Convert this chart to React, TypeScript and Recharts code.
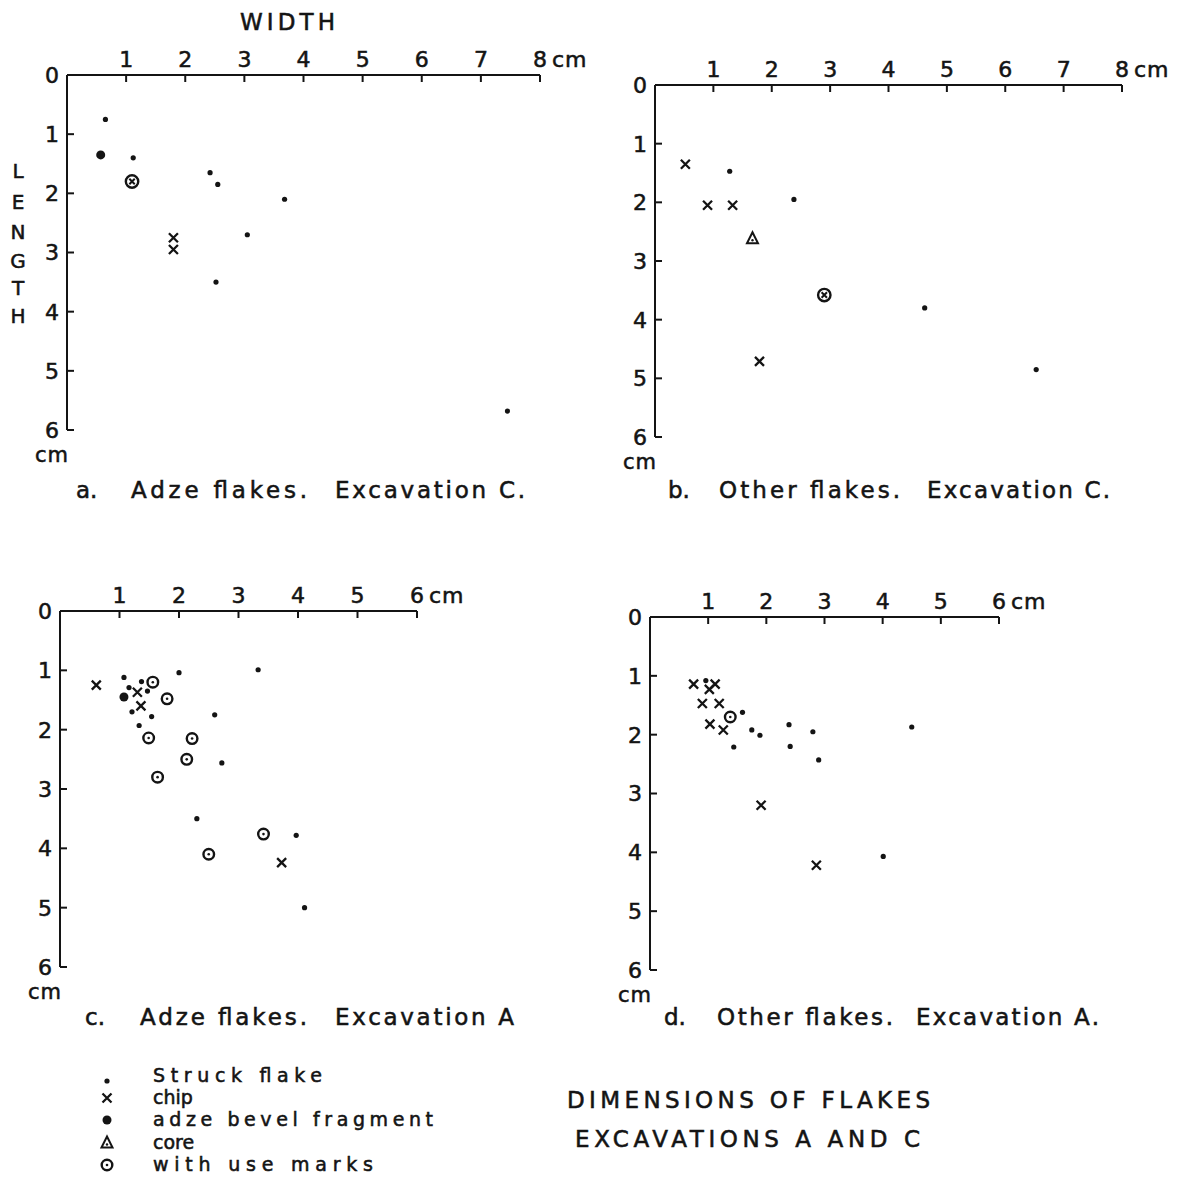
import React from 'react';
import { ScatterChart, Scatter, XAxis, YAxis } from 'recharts';

type Pt = { w: number; l: number };

// ---------- tick values ----------
const widthTicks8 = [1, 2, 3, 4, 5, 6, 7, 8];
const widthTicks6 = [1, 2, 3, 4, 5, 6];
const lengthTicks = [0, 1, 2, 3, 4, 5, 6];

// ---------- a. Adze flakes, Excavation C ----------
const aStruck: Pt[] = [
  { w: 0.65, l: 0.75 }, { w: 1.12, l: 1.4 }, { w: 2.42, l: 1.65 }, { w: 2.55, l: 1.85 },
  { w: 3.68, l: 2.1 }, { w: 3.05, l: 2.7 }, { w: 2.52, l: 3.5 }, { w: 7.45, l: 5.68 },
];
const aChip: Pt[] = [{ w: 1.8, l: 2.75 }, { w: 1.8, l: 2.95 }];
const aBevel: Pt[] = [{ w: 0.57, l: 1.35 }];
const aChipUse: Pt[] = [{ w: 1.1, l: 1.8 }];

// ---------- b. Other flakes, Excavation C ----------
const bStruck: Pt[] = [
  { w: 1.28, l: 1.47 }, { w: 2.38, l: 1.95 }, { w: 4.62, l: 3.8 }, { w: 6.53, l: 4.85 },
];
const bChip: Pt[] = [
  { w: 0.52, l: 1.35 }, { w: 0.9, l: 2.05 }, { w: 1.33, l: 2.05 }, { w: 1.79, l: 4.71 },
];
const bCore: Pt[] = [{ w: 1.67, l: 2.62 }];
const bChipUse: Pt[] = [{ w: 2.9, l: 3.58 }];

// ---------- c. Adze flakes, Excavation A ----------
const cStruck: Pt[] = [
  { w: 1.075, l: 1.12 }, { w: 1.16, l: 1.29 }, { w: 1.37, l: 1.19 }, { w: 1.47, l: 1.35 },
  { w: 1.21, l: 1.7 }, { w: 1.54, l: 1.78 }, { w: 1.33, l: 1.93 }, { w: 2.0, l: 1.04 },
  { w: 3.33, l: 0.99 }, { w: 2.6, l: 1.75 }, { w: 2.72, l: 2.56 }, { w: 2.3, l: 3.5 },
  { w: 3.97, l: 3.78 }, { w: 4.11, l: 5.0 },
];
const cChip: Pt[] = [
  { w: 0.61, l: 1.25 }, { w: 1.3, l: 1.37 }, { w: 1.36, l: 1.6 }, { w: 3.725, l: 4.24 },
];
const cBevel: Pt[] = [{ w: 1.075, l: 1.45 }];
const cUse: Pt[] = [
  { w: 1.56, l: 1.2 }, { w: 1.8, l: 1.48 }, { w: 1.49, l: 2.14 }, { w: 2.22, l: 2.15 },
  { w: 2.13, l: 2.5 }, { w: 1.64, l: 2.8 }, { w: 3.42, l: 3.76 }, { w: 2.5, l: 4.1 },
];

// ---------- d. Other flakes, Excavation A ----------
const dStruck: Pt[] = [
  { w: 0.96, l: 1.08 }, { w: 1.59, l: 1.62 }, { w: 1.75, l: 1.92 }, { w: 1.89, l: 2.01 },
  { w: 1.44, l: 2.21 }, { w: 2.39, l: 1.83 }, { w: 2.41, l: 2.2 }, { w: 2.8, l: 1.95 },
  { w: 2.9, l: 2.43 }, { w: 4.5, l: 1.87 }, { w: 4.01, l: 4.07 },
];
const dChip: Pt[] = [
  { w: 0.75, l: 1.14 }, { w: 1.12, l: 1.14 }, { w: 1.02, l: 1.23 }, { w: 0.9, l: 1.47 },
  { w: 1.19, l: 1.47 }, { w: 1.03, l: 1.82 }, { w: 1.26, l: 1.92 }, { w: 1.91, l: 3.2 },
  { w: 2.86, l: 4.22 },
];
const dUse: Pt[] = [{ w: 1.38, l: 1.7 }];

// ---------- text ----------
const legendLabels = ['Struck flake', 'chip', 'adze bevel fragment', 'core', 'with use marks'];
const titleLines = ['DIMENSIONS OF FLAKES', 'EXCAVATIONS A AND C'];

// ---------- styling ----------
const INK = '#141414';
const FONT = 'DejaVu Sans, Liberation Sans, sans-serif';
const FS = 22;
const TS = { fill: INK, stroke: INK, strokeWidth: 0.55, fontFamily: FONT };

// ---------- marker shapes ----------
const DotShape = (p: any) => <circle cx={p.cx} cy={p.cy} r={2.6} fill={INK} />;
const BevelShape = (p: any) => <circle cx={p.cx} cy={p.cy} r={4.5} fill={INK} />;
const ChipShape = (p: any) => {
  const s = 4.5;
  return (
    <path
      d={`M${p.cx - s},${p.cy - s}L${p.cx + s},${p.cy + s}M${p.cx + s},${p.cy - s}L${p.cx - s},${p.cy + s}`}
      stroke={INK} strokeWidth={2.3} fill="none"
    />
  );
};
const UseShape = (p: any) => (
  <g>
    <circle cx={p.cx} cy={p.cy} r={5.3} stroke={INK} strokeWidth={2.4} fill="#fff" />
    <circle cx={p.cx} cy={p.cy} r={1.3} fill={INK} />
  </g>
);
const ChipUseShape = (p: any) => {
  const s = 2.7;
  return (
    <g>
      <circle cx={p.cx} cy={p.cy} r={6.2} stroke={INK} strokeWidth={2.4} fill="#fff" />
      <path
        d={`M${p.cx - s},${p.cy - s}L${p.cx + s},${p.cy + s}M${p.cx + s},${p.cy - s}L${p.cx - s},${p.cy + s}`}
        stroke={INK} strokeWidth={2} fill="none"
      />
    </g>
  );
};
const CoreShape = (p: any) => (
  <g>
    <path
      d={`M${p.cx},${p.cy - 6.5}L${p.cx + 5.5},${p.cy + 4.5}L${p.cx - 5.5},${p.cy + 4.5}Z`}
      stroke={INK} strokeWidth={2} fill="#fff"
    />
    <circle cx={p.cx} cy={p.cy + 1.5} r={1.2} fill={INK} />
  </g>
);

// ---------- axis ticks ----------
const makeXTick = (max: number) => (props: any) => {
  const { x, y, payload } = props;
  const v = payload.value;
  return (
    <g>
      <line x1={x} x2={x} y1={y} y2={y + 7} stroke={INK} strokeWidth={2} />
      <text x={x} y={y - 8} textAnchor="middle" fontSize={FS} {...TS}>
        {v}
      </text>
      {v === max && (
        <text x={x + 12} y={y - 8} fontSize={FS} {...TS} letterSpacing={1}>
          cm
        </text>
      )}
    </g>
  );
};

const YTick = (props: any) => {
  const { x, y, payload } = props;
  const v = payload.value;
  return (
    <g>
      {v !== 0 && <line x1={x} x2={x + 7} y1={y} y2={y} stroke={INK} strokeWidth={2} />}
      <text x={x - 8} y={y} dy="0.36em" textAnchor="end" fontSize={FS} {...TS}>
        {v}
      </text>
      {v === 6 && (
        <text x={x + 2} y={y + 32} textAnchor="end" fontSize={21} {...TS} letterSpacing={1}>
          cm
        </text>
      )}
    </g>
  );
};

type SeriesDef = { name: string; data: Pt[]; shape: (p: any) => React.ReactElement };

type PanelProps = {
  left: number;
  top: number;
  plotW: number;
  plotH: number;
  maxW: number;
  xTicks: number[];
  series: SeriesDef[];
};

function Panel({ left, top, plotW, plotH, maxW, xTicks, series }: PanelProps) {
  const mL = 70, mT = 45, mR = 70, mB = 50;
  const axisW = 2;
  return (
    <div style={{ position: 'absolute', left: left - mL, top: top - mT }}>
      <ScatterChart
        width={plotW + mL + mR}
        height={plotH + mT + mB}
        margin={{ left: mL - axisW, top: mT - axisW, right: mR, bottom: mB }}
        style={{ overflow: 'visible' }}
      >
        <XAxis
          type="number"
          dataKey="w"
          orientation="top"
          domain={[0, maxW]}
          ticks={xTicks}
          interval={0}
          height={axisW}
          tickSize={0}
          tickMargin={0}
          tickLine={false}
          axisLine={{ stroke: INK, strokeWidth: 2 }}
          tick={makeXTick(maxW)}
          allowDataOverflow
        />
        <YAxis
          type="number"
          dataKey="l"
          reversed
          domain={[0, 6]}
          ticks={lengthTicks}
          interval={0}
          width={axisW}
          tickSize={0}
          tickMargin={0}
          tickLine={false}
          axisLine={{ stroke: INK, strokeWidth: 2 }}
          tick={YTick}
          allowDataOverflow
        />
        {series.map((s) => (
          <Scatter key={s.name} name={s.name} data={s.data} shape={s.shape} isAnimationActive={false} />
        ))}
      </ScatterChart>
    </div>
  );
}

const txt = (x: number, y: number, s: string, extra: any = {}) => (
  <text x={x} y={y} fontSize={FS + 1} {...TS} {...extra}>
    {s}
  </text>
);

export default function App() {
  const lengthLetters = ['L', 'E', 'N', 'G', 'T', 'H'];
  const lengthBase = [178, 209, 239, 268, 295, 323];
  const legendBase = [1082, 1104, 1126, 1149, 1171];
  const legendShapes = [DotShape, ChipShape, BevelShape, CoreShape, UseShape];
  const legendLen = [169, 0, 280, 0, 220];
  return (
    <div style={{ position: 'absolute', left: 0, top: 0, width: 1178, height: 1177, background: '#fff' }}>
      <Panel
        left={67} top={75} plotW={473} plotH={355} maxW={8} xTicks={widthTicks8}
        series={[
          { name: 'Struck flake', data: aStruck, shape: DotShape },
          { name: 'chip', data: aChip, shape: ChipShape },
          { name: 'adze bevel fragment', data: aBevel, shape: BevelShape },
          { name: 'chip with use marks', data: aChipUse, shape: ChipUseShape },
        ]}
      />
      <Panel
        left={655} top={85} plotW={467} plotH={352} maxW={8} xTicks={widthTicks8}
        series={[
          { name: 'Struck flake', data: bStruck, shape: DotShape },
          { name: 'chip', data: bChip, shape: ChipShape },
          { name: 'core', data: bCore, shape: CoreShape },
          { name: 'chip with use marks', data: bChipUse, shape: ChipUseShape },
        ]}
      />
      <Panel
        left={60} top={611} plotW={357} plotH={356} maxW={6} xTicks={widthTicks6}
        series={[
          { name: 'Struck flake', data: cStruck, shape: DotShape },
          { name: 'chip', data: cChip, shape: ChipShape },
          { name: 'adze bevel fragment', data: cBevel, shape: BevelShape },
          { name: 'with use marks', data: cUse, shape: UseShape },
        ]}
      />
      <Panel
        left={650} top={617} plotW={349} plotH={353} maxW={6} xTicks={widthTicks6}
        series={[
          { name: 'Struck flake', data: dStruck, shape: DotShape },
          { name: 'chip', data: dChip, shape: ChipShape },
          { name: 'with use marks', data: dUse, shape: UseShape },
        ]}
      />
      <svg
        width={1178}
        height={1177}
        style={{ position: 'absolute', left: 0, top: 0, pointerEvents: 'none' }}
      >
        {txt(240, 30, 'WIDTH', { textLength: 95, lengthAdjust: 'spacing' })}
        {lengthLetters.map((c, i) => (
          <text key={c + i} x={18} y={lengthBase[i]} textAnchor="middle" fontSize={20} {...TS}>
            {c}
          </text>
        ))}

        {txt(76, 498, 'a.')}
        {txt(131, 498, 'Adze flakes.', { textLength: 176, lengthAdjust: 'spacing' })}
        {txt(335, 498, 'Excavation C.', { textLength: 190, lengthAdjust: 'spacing' })}

        {txt(668, 498, 'b.')}
        {txt(719, 498, 'Other flakes.', { textLength: 181, lengthAdjust: 'spacing' })}
        {txt(927, 498, 'Excavation C.', { textLength: 183, lengthAdjust: 'spacing' })}

        {txt(85, 1025, 'c.')}
        {txt(140, 1025, 'Adze flakes.', { textLength: 167, lengthAdjust: 'spacing' })}
        {txt(335, 1025, 'Excavation A', { textLength: 179, lengthAdjust: 'spacing' })}

        {txt(664, 1025, 'd.')}
        {txt(717, 1025, 'Other flakes.', { textLength: 176, lengthAdjust: 'spacing' })}
        {txt(916, 1025, 'Excavation A.', { textLength: 183, lengthAdjust: 'spacing' })}

        {legendLabels.map((lab, i) => {
          const Shape = legendShapes[i];
          return (
            <g key={lab}>
              <Shape cx={107} cy={legendBase[i] - (i === 0 ? 1 : 6)} />
              <text
                x={153}
                y={legendBase[i]}
                fontSize={19}
                {...TS}
                {...(legendLen[i] ? { textLength: legendLen[i], lengthAdjust: 'spacing' } : {})}
              >
                {lab}
              </text>
            </g>
          );
        })}

        {txt(567, 1108, titleLines[0], { textLength: 363, lengthAdjust: 'spacing' })}
        {txt(575, 1147, titleLines[1], { textLength: 345, lengthAdjust: 'spacing' })}
      </svg>
    </div>
  );
}
